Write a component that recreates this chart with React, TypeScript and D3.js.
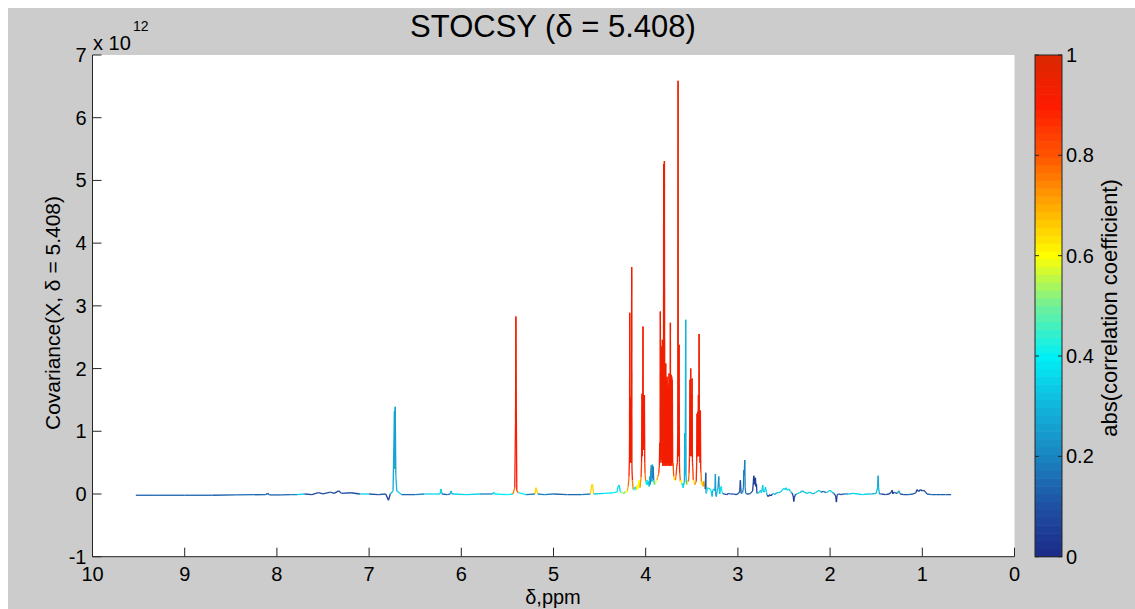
import React from "react";
import * as d3 from "d3";

type Pt = [number, number, number]; // [ppm, covariance (x1e12), |r|]

const xTicks = [10, 9, 8, 7, 6, 5, 4, 3, 2, 1, 0];
const yTicks = [-1, 0, 1, 2, 3, 4, 5, 6, 7];
const cbTicks = [0, 0.2, 0.4, 0.6, 0.8, 1];
const cbTickLabels = ["0", "0.2", "0.4", "0.6", "0.8", "1"];

const cmapPos = [0, 0.1, 0.2, 0.3, 0.4, 0.5, 0.6, 0.7, 0.8, 0.9, 1];
const cmapCol = ["#1b2a87", "#1f4fa3", "#1a85c0", "#11b5dc", "#00f0f5", "#70f09a", "#ffff00", "#ffaa00", "#ff5500", "#ff1a00", "#d92800"];

const aromatic: Pt[] = [
  [9.53, -0.02, 0.13], [9.3, -0.02, 0.13], [9.0, -0.02, 0.14], [8.7, -0.02, 0.13], [8.45, -0.015, 0.15],
  [8.12, -0.01, 0.14], [8.1, 0.01, 0.15], [8.08, -0.015, 0.13], [7.95, -0.015, 0.14], [7.85, -0.01, 0.2],
  [7.78, -0.01, 0.35], [7.7, 0.0, 0.38], [7.62, -0.01, 0.1], [7.55, 0.02, 0.08], [7.5, 0.0, 0.3],
  [7.42, 0.03, 0.1], [7.38, 0.01, 0.3], [7.33, 0.05, 0.08], [7.3, 0.01, 0.3], [7.2, 0.02, 0.1],
  [7.1, 0.0, 0.35], [7.0, 0.0, 0.1], [6.9, -0.01, 0.12], [6.82, 0.0, 0.3], [6.79, -0.1, 0.05],
  [6.77, 0.0, 0.3], [6.74, 0.05, 0.3], [6.725, 1.32, 0.28], [6.72, 0.4, 0.3], [6.717, 1.39, 0.25],
  [6.71, 0.3, 0.3], [6.70, 0.05, 0.35], [6.65, -0.01, 0.15], [6.5, -0.01, 0.2], [6.4, 0.0, 0.35],
  [6.3, 0.0, 0.35], [6.23, 0.0, 0.35], [6.22, 0.08, 0.35], [6.21, 0.0, 0.3], [6.15, -0.01, 0.15],
  [6.12, 0.0, 0.3], [6.11, 0.05, 0.3], [6.1, 0.0, 0.3], [6.08, 0.0, 0.1], [5.95, -0.01, 0.35],
  [5.8, 0.0, 0.2], [5.66, 0.0, 0.35], [5.65, 0.03, 0.35], [5.64, 0.0, 0.3], [5.5, -0.01, 0.4],
  [5.44, 0.0, 0.6], [5.42, 0.1, 0.75], [5.412, 1.13, 0.9], [5.408, 2.83, 0.95], [5.404, 1.5, 0.9],
  [5.398, 0.05, 0.8], [5.38, 0.02, 0.4], [5.3, -0.01, 0.2], [5.2, 0.0, 0.3], [5.19, 0.1, 0.65],
  [5.17, 0.0, 0.6], [5.1, -0.01, 0.2], [5.0, 0.0, 0.35], [4.85, -0.01, 0.15], [4.7, -0.01, 0.2],
  [4.6, 0.0, 0.35], [4.585, 0.15, 0.65], [4.575, 0.15, 0.65], [4.565, 0.0, 0.4], [4.45, 0.01, 0.35],
  [4.35, 0.02, 0.4],
];

const sugars: Pt[] = [
  [4.311, 0.03, 0.4], [4.30, 0.12, 0.38], [4.289, 0.14, 0.35], [4.275, 0.04, 0.4], [4.267, 0.02, 0.45],
  [4.25, 0.03, 0.55], [4.238, 0.0, 0.2], [4.225, 0.04, 0.5], [4.217, 0.02, 0.25], [4.2, 0.05, 0.6],
  [4.19, 0.12, 0.7], [4.181, 0.28, 0.78], [4.176, 0.6, 0.9], [4.173, 2.89, 0.93], [4.170, 0.5, 0.9],
  [4.167, 1.54, 0.93], [4.164, 0.6, 0.9], [4.161, 1.5, 0.93], [4.158, 0.5, 0.9], [4.155, 1.45, 0.93],
  [4.152, 3.62, 0.94], [4.149, 0.4, 0.9], [4.144, 0.22, 0.75], [4.137, 0.08, 0.5], [4.13, 0.06, 0.38],
  [4.12, 0.1, 0.45], [4.112, 0.11, 0.35], [4.10, 0.06, 0.55], [4.094, 0.14, 0.62], [4.085, 0.08, 0.6],
  [4.072, 0.22, 0.6], [4.062, 0.1, 0.55], [4.05, 0.27, 0.72], [4.045, 0.5, 0.85], [4.040, 1.6, 0.92],
  [4.036, 0.6, 0.9], [4.033, 1.3, 0.92], [4.029, 2.67, 0.93], [4.026, 0.7, 0.9], [4.022, 1.58, 0.93],
  [4.018, 0.8, 0.9], [4.014, 1.58, 0.93], [4.010, 0.5, 0.85], [4.007, 0.33, 0.75], [4.0, 0.2, 0.45],
  [3.99, 0.15, 0.5], [3.985, 0.22, 0.38], [3.975, 0.14, 0.45], [3.967, 0.2, 0.35], [3.962, 0.12, 0.4],
  [3.956, 0.28, 0.32], [3.95, 0.15, 0.3], [3.945, 0.35, 0.22], [3.938, 0.46, 0.2], [3.933, 0.2, 0.3],
  [3.927, 0.47, 0.3], [3.923, 0.25, 0.25], [3.920, 0.44, 0.18], [3.913, 0.22, 0.35], [3.905, 0.15, 0.5],
  [3.895, 0.17, 0.52], [3.885, 0.22, 0.6], [3.877, 0.22, 0.65], [3.868, 0.28, 0.7], [3.859, 0.33, 0.78],
  [3.852, 0.45, 0.85], [3.848, 0.81, 0.9], [3.844, 0.5, 0.9], [3.841, 2.91, 0.94], [3.838, 0.6, 0.9],
  [3.834, 1.71, 0.93], [3.830, 0.55, 0.9], [3.826, 2.35, 0.94], [3.822, 0.5, 0.9], [3.819, 2.46, 0.94],
  [3.815, 0.45, 0.9], [3.812, 2.19, 0.93], [3.808, 0.5, 0.9], [3.805, 5.26, 0.95], [3.801, 0.45, 0.9],
  [3.797, 5.31, 0.95], [3.793, 0.5, 0.9], [3.790, 1.92, 0.93], [3.786, 0.45, 0.9], [3.783, 2.08, 0.93],
  [3.779, 0.5, 0.9], [3.776, 1.82, 0.93], [3.772, 0.45, 0.9], [3.768, 1.87, 0.93], [3.765, 0.5, 0.9],
  [3.761, 1.76, 0.93], [3.757, 0.45, 0.9], [3.754, 1.71, 0.93], [3.750, 0.5, 0.9], [3.747, 1.92, 0.93],
  [3.743, 0.45, 0.9], [3.740, 1.82, 0.93], [3.736, 0.5, 0.9], [3.732, 2.73, 0.94], [3.729, 0.45, 0.9],
  [3.725, 1.9, 0.93], [3.721, 0.5, 0.9], [3.718, 1.87, 0.93], [3.714, 0.45, 0.9], [3.711, 1.82, 0.93],
  [3.707, 0.45, 0.9], [3.703, 0.49, 0.8], [3.696, 0.28, 0.65], [3.687, 0.22, 0.6], [3.678, 0.22, 0.62],
  [3.670, 0.3, 0.75], [3.663, 0.44, 0.85], [3.656, 0.5, 0.9], [3.652, 1.0, 0.92], [3.649, 6.59, 0.95],
  [3.646, 0.6, 0.9], [3.642, 1.2, 0.92], [3.638, 2.38, 0.93], [3.634, 0.5, 0.88], [3.631, 0.33, 0.8],
  [3.624, 0.2, 0.62], [3.617, 0.22, 0.6], [3.61, 0.15, 0.45], [3.602, 0.17, 0.38], [3.595, 0.1, 0.4],
  [3.588, 0.14, 0.35], [3.58, 0.2, 0.3], [3.577, 0.97, 0.28], [3.573, 0.3, 0.3], [3.569, 1.5, 0.3],
  [3.566, 2.78, 0.3], [3.562, 0.3, 0.3], [3.559, 0.17, 0.35], [3.55, 0.15, 0.5], [3.544, 0.22, 0.62],
  [3.536, 0.2, 0.7], [3.530, 0.33, 0.78], [3.525, 0.6, 0.88], [3.519, 1.82, 0.93], [3.515, 0.6, 0.9],
  [3.512, 2.0, 0.93], [3.508, 0.7, 0.9], [3.504, 1.6, 0.93], [3.500, 0.6, 0.9], [3.497, 1.84, 0.93],
  [3.493, 0.5, 0.88], [3.490, 0.44, 0.85], [3.484, 0.22, 0.65], [3.479, 0.22, 0.62], [3.47, 0.15, 0.55],
  [3.461, 0.17, 0.75], [3.452, 0.2, 0.78], [3.447, 0.5, 0.88], [3.443, 1.28, 0.92], [3.439, 0.6, 0.9],
  [3.436, 1.31, 0.92], [3.432, 0.6, 0.9], [3.428, 1.58, 0.93], [3.424, 0.7, 0.9], [3.421, 2.55, 0.94],
  [3.417, 0.6, 0.9], [3.414, 1.07, 0.92], [3.410, 0.5, 0.9], [3.407, 1.33, 0.92], [3.403, 0.4, 0.85],
  [3.400, 0.33, 0.78], [3.394, 0.15, 0.6], [3.389, 0.2, 0.62], [3.38, 0.12, 0.5], [3.371, 0.2, 0.72],
  [3.365, 0.12, 0.65], [3.360, 0.17, 0.7], [3.354, 0.08, 0.3], [3.349, 0.34, 0.12], [3.345, 0.05, 0.15],
  [3.342, 0.01, 0.3],
];

const aliphatic: Pt[] = [
  [3.33, 0.1, 0.38], [3.316, 0.09, 0.35], [3.30, 0.08, 0.4], [3.29, 0.05, 0.35], [3.280, -0.04, 0.08],
  [3.272, 0.06, 0.3], [3.26, 0.08, 0.35], [3.25, 0.05, 0.3], [3.244, 0.32, 0.25], [3.240, 0.02, 0.2],
  [3.233, -0.04, 0.1], [3.225, 0.05, 0.3], [3.215, 0.1, 0.3], [3.208, 0.28, 0.22], [3.203, 0.1, 0.3],
  [3.197, 0.0, 0.1], [3.19, 0.08, 0.35], [3.182, 0.12, 0.38], [3.175, 0.05, 0.4], [3.165, 0.01, 0.1],
  [3.154, 0.0, 0.15], [3.12, -0.01, 0.1], [3.1, 0.01, 0.12], [3.081, 0.0, 0.1], [3.05, 0.0, 0.15],
  [3.02, -0.01, 0.1], [2.991, 0.01, 0.1], [2.98, 0.05, 0.1], [2.973, 0.22, 0.08], [2.969, 0.1, 0.08],
  [2.965, 0.01, 0.1], [2.95, 0.02, 0.2], [2.94, 0.1, 0.2], [2.936, 0.38, 0.18], [2.931, 0.3, 0.2],
  [2.926, 0.54, 0.2], [2.921, 0.1, 0.2], [2.915, 0.01, 0.15], [2.9, 0.0, 0.1], [2.88, 0.0, 0.15],
  [2.864, 0.01, 0.1], [2.84, 0.05, 0.1], [2.832, 0.2, 0.06], [2.828, 0.29, 0.05], [2.824, 0.15, 0.06],
  [2.82, 0.25, 0.06], [2.815, 0.24, 0.06], [2.81, 0.26, 0.06], [2.805, 0.12, 0.06], [2.799, 0.16, 0.06],
  [2.795, 0.05, 0.08], [2.792, 0.01, 0.15], [2.77, 0.02, 0.3], [2.756, 0.06, 0.35], [2.745, 0.02, 0.3],
  [2.735, 0.1, 0.33], [2.730, 0.14, 0.33], [2.725, 0.05, 0.3], [2.719, 0.03, 0.1], [2.71, 0.05, 0.3],
  [2.701, 0.11, 0.35], [2.69, 0.02, 0.3], [2.683, -0.02, 0.08], [2.67, -0.04, 0.06], [2.655, -0.01, 0.1],
  [2.64, -0.03, 0.06], [2.625, 0.0, 0.15], [2.611, 0.01, 0.3], [2.6, -0.01, 0.1], [2.58, 0.02, 0.3],
  [2.56, 0.02, 0.35], [2.539, 0.03, 0.3], [2.52, 0.06, 0.35], [2.503, 0.09, 0.35], [2.49, 0.07, 0.3],
  [2.48, 0.1, 0.35], [2.465, 0.06, 0.3], [2.448, 0.08, 0.35], [2.43, 0.04, 0.3], [2.415, 0.02, 0.2],
  [2.40, -0.03, 0.08], [2.394, -0.12, 0.06], [2.388, -0.06, 0.08], [2.38, -0.02, 0.1], [2.365, 0.0, 0.2],
  [2.35, 0.01, 0.3], [2.33, 0.02, 0.35], [2.30, 0.05, 0.3], [2.28, 0.03, 0.35], [2.25, 0.01, 0.1],
  [2.22, 0.03, 0.35], [2.19, 0.0, 0.3], [2.16, 0.02, 0.25], [2.12, 0.06, 0.35], [2.10, 0.03, 0.3],
  [2.07, 0.04, 0.1], [2.04, 0.02, 0.3], [2.0, 0.06, 0.35], [1.98, 0.03, 0.3], [1.96, 0.01, 0.15],
  [1.94, -0.03, 0.08], [1.931, -0.13, 0.06], [1.925, -0.02, 0.08], [1.91, 0.0, 0.15], [1.88, -0.01, 0.1],
  [1.85, 0.0, 0.2], [1.80, 0.0, 0.35], [1.75, 0.01, 0.35], [1.70, 0.0, 0.3], [1.65, -0.01, 0.35],
  [1.6, 0.0, 0.3], [1.55, 0.0, 0.35], [1.5, 0.01, 0.3], [1.485, 0.1, 0.3], [1.479, 0.29, 0.28],
  [1.474, 0.1, 0.3], [1.465, 0.0, 0.15], [1.44, 0.0, 0.1], [1.40, -0.01, 0.08], [1.36, 0.0, 0.08],
  [1.335, 0.03, 0.06], [1.327, 0.06, 0.05], [1.32, 0.0, 0.06], [1.31, 0.03, 0.08], [1.30, 0.02, 0.1],
  [1.27, 0.01, 0.3], [1.255, 0.05, 0.25], [1.24, 0.0, 0.15], [1.2, -0.01, 0.12], [1.15, -0.01, 0.15],
  [1.1, 0.0, 0.12], [1.07, 0.02, 0.06], [1.056, 0.07, 0.05], [1.04, 0.04, 0.06], [1.02, 0.07, 0.05],
  [1.0, 0.05, 0.06], [0.985, 0.06, 0.05], [0.965, 0.03, 0.08], [0.95, 0.0, 0.2], [0.9, -0.01, 0.15],
  [0.85, -0.01, 0.13], [0.8, -0.01, 0.13], [0.75, -0.01, 0.13], [0.687, -0.01, 0.13],
];

const FONT = "'Liberation Sans', Arial, Helvetica, sans-serif";

export default function App() {
  const W = 1135, H = 609;
  const L = 92.5, R = 1014.5, T = 55, B = 556.7;
  const x = d3.scaleLinear().domain([10, 0]).range([L, R]);
  const y = d3.scaleLinear().domain([-1, 7]).range([B, T]);
  const cbL = 1035, cbR = 1062;
  const cb = d3.scaleLinear().domain([0, 1]).range([B, T]);
  const cmap = d3.scaleLinear<string>().domain(cmapPos).range(cmapCol).interpolate(d3.interpolateRgb);
  const jet = (v: number) => {
    const idx = Math.max(0, Math.min(63, Math.floor(v * 64)));
    return cmap((idx + 0.5) / 64);
  };
  const pts: Pt[] = [...aromatic, ...sugars, ...aliphatic];
  const segs = pts.slice(0, -1).map((p, i) => {
    const q = pts[i + 1];
    const c = Math.abs(p[1]) >= Math.abs(q[1]) ? p[2] : q[2];
    return { x1: x(p[0]), y1: y(p[1]), x2: x(q[0]), y2: y(q[1]), c: jet(c) };
  });
  const bands = d3.range(64);
  const tickLen = 9;
  const axisCol = "#262626";

  return (
    <svg width={W} height={H} style={{ position: "fixed", left: 0, top: 0 }} fontFamily={FONT}>
      <rect x={0} y={0} width={W} height={H} fill="#ffffff" />
      <rect x={8} y={8} width={W - 8} height={H - 8} fill="#cccccc" />
      <rect x={L} y={T} width={R - L} height={B - T} fill="#ffffff" />
      <text x={553} y={37} fontSize={31} textAnchor="middle" fill="#000">STOCSY (δ = 5.408)</text>

      {segs.map((s, i) => (
        <line key={i} x1={s.x1} y1={s.y1} x2={s.x2} y2={s.y2} stroke={s.c} strokeWidth={1.3} />
      ))}

      {/* axes */}
      <line x1={L} y1={T} x2={L} y2={B} stroke={axisCol} />
      <line x1={L} y1={B} x2={R} y2={B} stroke={axisCol} />
      {yTicks.map((t) => (
        <g key={"y" + t}>
          <line x1={L} x2={L + tickLen} y1={y(t)} y2={y(t)} stroke={axisCol} />
          <text x={L - 6} y={y(t) + 7} fontSize={20} textAnchor="end" fill="#000">{t}</text>
        </g>
      ))}
      {xTicks.map((t) => (
        <g key={"x" + t}>
          <line x1={x(t)} x2={x(t)} y1={B} y2={B - tickLen} stroke={axisCol} />
          <text x={x(t)} y={581} fontSize={20} textAnchor="middle" fill="#000">{t}</text>
        </g>
      ))}
      <text x={93} y={50} fontSize={20} fill="#000">x 10</text>
      <text x={133} y={31} fontSize={14} fill="#000">12</text>
      <text x={553} y={604} fontSize={20} textAnchor="middle" fill="#000">δ,ppm</text>
      <text transform={`translate(60,313) rotate(-90)`} fontSize={21} textAnchor="middle" fill="#000">Covariance(X, δ = 5.408)</text>

      {/* colorbar */}
      {bands.map((i) => (
        <rect key={"b" + i} x={cbL} width={cbR - cbL} y={cb((i + 1) / 64)} height={cb(i / 64) - cb((i + 1) / 64) + 0.5} fill={cmap((i + 0.5) / 64)} />
      ))}
      <rect x={cbL} y={T} width={cbR - cbL} height={B - T} fill="none" stroke={axisCol} />
      {cbTicks.map((t, i) => (
        <g key={"c" + t}>
          <line x1={cbL} x2={cbL + 4} y1={cb(t)} y2={cb(t)} stroke={axisCol} />
          <line x1={cbR} x2={cbR - 4} y1={cb(t)} y2={cb(t)} stroke={axisCol} />
          <text x={1066} y={cb(t) + 7} fontSize={20} fill="#000">{cbTickLabels[i]}</text>
        </g>
      ))}
      <text transform={`translate(1117,308) rotate(-90)`} fontSize={22} textAnchor="middle" fill="#000">abs(correlation coefficient)</text>
    </svg>
  );
}
